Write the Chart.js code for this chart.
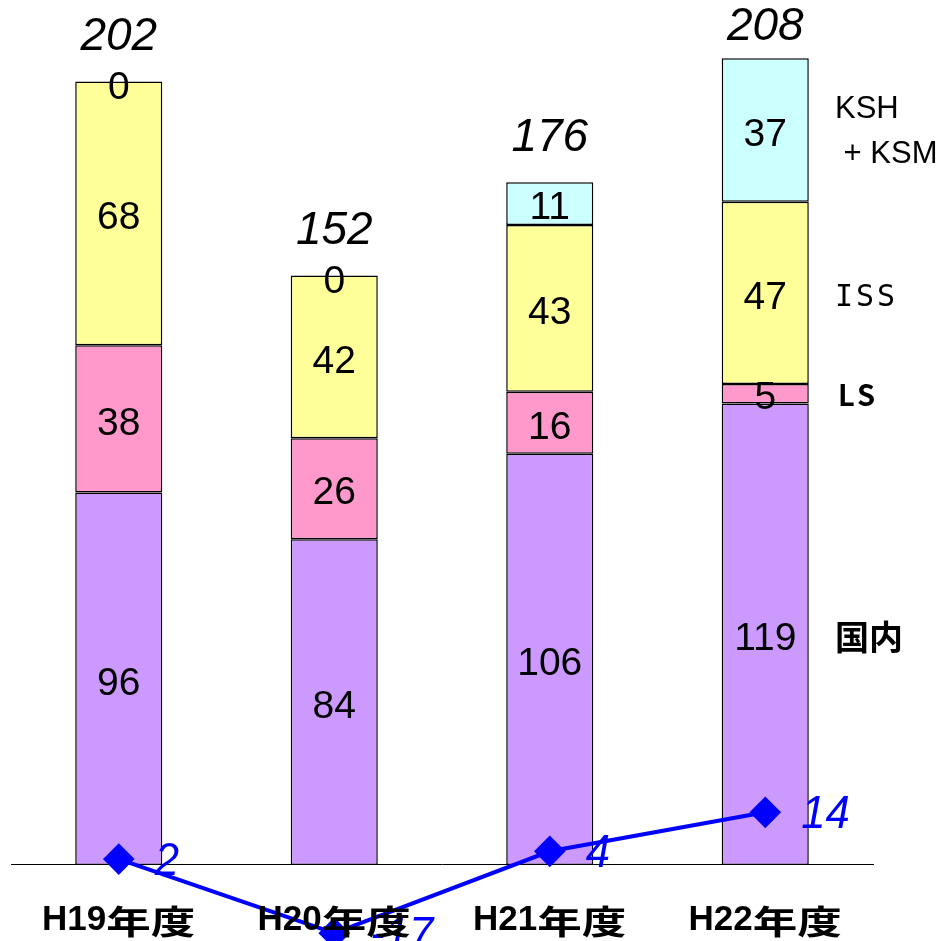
<!DOCTYPE html>
<html>
<head>
<meta charset="utf-8">
<script src="https://cdn.jsdelivr.net/npm/chart.js@4.4.1/dist/chart.umd.min.js"></script>
<style>
  html, body { margin: 0; padding: 0; background: #fff; }
  #wrap { width: 947px; height: 941px; }
</style>
</head>
<body>
<div id="wrap"><canvas id="chart"></canvas></div>
<script>
// data
const categories = ["H19年度", "H20年度", "H21年度", "H22年度"];
const domestic = [96, 84, 106, 119];
const ls = [38, 26, 16, 5];
const iss = [68, 42, 43, 47];
const kshKsm = [0, 0, 11, 37];
const totals = [202, 152, 176, 208];
const lineValues = [2, -17, 4, 14];
const seriesNames = ["国内", "LS", "ISS", "KSH\n + KSM"];
const seriesColors = ["#CC99FF", "#FF99CC", "#FFFF99", "#CCFFFF"];

function drawText(ctx, text, x, y, font, color, align, sx) {
    ctx.save();
    ctx.font = font;
    ctx.fillStyle = color;
    ctx.textAlign = align || "center";
    ctx.textBaseline = "middle";
    ctx.translate(x, y);
    ctx.scale(sx || 1, 1);
    ctx.fillText(text, 0, 0);
    ctx.restore();
}

function drawCategory(ctx, label, cx, y) {
    const latin = label.replace(/[^\x00-\x7F]/g, "");
    const cjk = label.replace(/[\x00-\x7F]/g, "");
    const latinFont = "bold 35px 'Liberation Sans'";
    const cjkFont = "bold 33px 'Noto Sans CJK JP'";
    const cjkScale = 1.35;
    ctx.save();
    ctx.font = latinFont;
    const w1 = ctx.measureText(latin).width;
    ctx.font = cjkFont;
    const w2 = ctx.measureText(cjk).width * cjkScale;
    ctx.restore();
    const left = cx - (w1 + w2) / 2;
    drawText(ctx, latin, left, y, latinFont, "#000", "left", 1);
    drawText(ctx, cjk, left + w1, y + 1, cjkFont, "#000", "left", cjkScale);
}

const labelPlugin = {
    id: "labels",
    afterDatasetsDraw(chart) {
        const ctx = chart.ctx;
        const barSets = [domestic, ls, iss, kshKsm];

        // numbers inside each segment
        barSets.forEach((values, i) => {
            const meta = chart.getDatasetMeta(i + 1);
            meta.data.forEach((bar, j) => {
                const cy = (bar.y + bar.base) / 2 + (values[j] === 0 ? 7 : 5);
                drawText(ctx, String(values[j]), bar.x, cy, "39px 'Liberation Sans'", "#000", "center", 1);
            });
        });

        // totals above bars
        const topMeta = chart.getDatasetMeta(4);
        topMeta.data.forEach((bar, j) => {
            const y = Math.max(bar.y - 44, 27);
            drawText(ctx, String(totals[j]), bar.x, y, "italic 46px 'Liberation Sans'", "#000", "center", 1);
        });

        // series names next to the last bar
        const nameX = chart.chartArea.right - 38;
        barSets.forEach((values, i) => {
            const bar = chart.getDatasetMeta(i + 1).data[categories.length - 1];
            const cy = (bar.y + bar.base) / 2;
            const name = seriesNames[i];
            if (name.indexOf("\n") >= 0) {
                const parts = name.split("\n");
                drawText(ctx, parts[0], nameX, cy - 20, "31px 'Liberation Sans'", "#000", "left", 1);
                drawText(ctx, parts[1], nameX, cy + 25, "31px 'Liberation Sans'", "#000", "left", 1);
            } else if (name === "国内") {
                drawText(ctx, name, nameX, cy + 3, "bold 34px 'Noto Sans CJK JP'", "#000", "left", 1);
            } else if (name === "ISS") {
                ctx.save();
                ctx.letterSpacing = "3px";
                drawText(ctx, name, nameX, cy + 5, "30px 'DejaVu Sans Mono'", "#000", "left", 1);
                ctx.restore();
            } else {
                ctx.save();
                ctx.letterSpacing = "3px";
                drawText(ctx, name, nameX + 3, cy + 1, "bold 29px 'Noto Sans CJK JP'", "#000", "left", 1);
                ctx.restore();
            }
        });

        // values of the line
        const lineMeta = chart.getDatasetMeta(0);
        lineMeta.data.forEach((pt, j) => {
            drawText(ctx, String(lineValues[j]), pt.x + 36, pt.y + 3, "italic 46px 'Liberation Sans'", "#0000FF", "left", 0.95);
        });
    },
    afterDraw(chart) {
        const ctx = chart.ctx;
        const xScale = chart.scales.x;
        categories.forEach((c, j) => {
            drawCategory(ctx, c, xScale.getPixelForValue(j), 920);
        });
    }
};

function barSet(label, data, color) {
    return {
        type: "bar",
        label: label,
        data: data,
        backgroundColor: color,
        borderColor: "#000",
        borderWidth: 1.5,
        borderSkipped: false,
        barPercentage: 0.404,
        categoryPercentage: 1,
        yAxisID: "y",
        order: 1
    };
}

new Chart(document.getElementById("chart"), {
    data: {
        labels: categories,
        datasets: [
            {
                type: "line",
                label: "line",
                data: lineValues,
                borderColor: "#0000FF",
                borderWidth: 4,
                backgroundColor: "#0000FF",
                pointStyle: "rectRot",
                pointRadius: 13,
                pointBackgroundColor: "#0000FF",
                pointBorderColor: "#0000FF",
                tension: 0,
                yAxisID: "y2",
                order: 0,
                clip: false
            },
            barSet(seriesNames[0], domestic, seriesColors[0]),
            barSet(seriesNames[1], ls, seriesColors[1]),
            barSet(seriesNames[2], iss, seriesColors[2]),
            barSet(seriesNames[3], kshKsm, seriesColors[3])
        ]
    },
    options: {
        responsive: true,
        maintainAspectRatio: false,
        animation: false,
        layout: { autoPadding: false, padding: { left: 11, right: 74, top: 0, bottom: 0 } },
        plugins: {
            legend: { display: false },
            tooltip: { enabled: false }
        },
        scales: {
            x: {
                stacked: true,
                position: { y: 0 },
                grid: { display: false },
                ticks: { display: false },
                border: { display: true, color: "#000", width: 1 }
            },
            y: {
                stacked: true,
                display: false,
                min: -19.6,
                max: 223
            },
            y2: {
                display: false,
                min: -19,
                max: 222.3
            }
        }
    },
    plugins: [labelPlugin]
});
</script>
</body>
</html>
